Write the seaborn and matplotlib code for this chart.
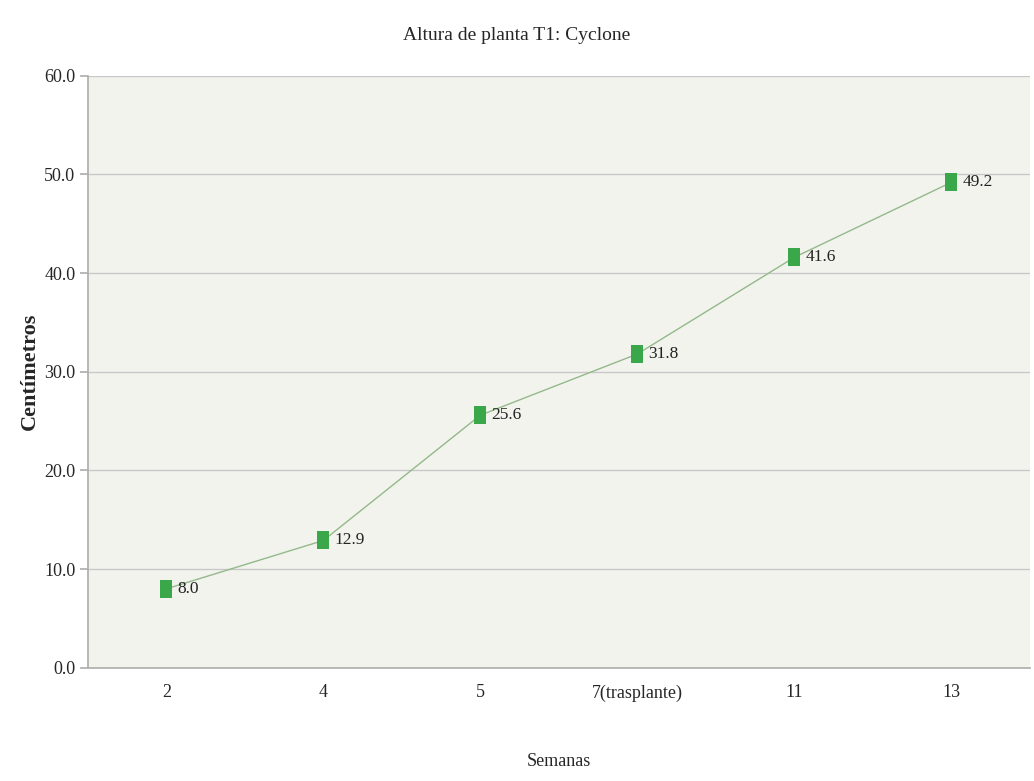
import matplotlib
matplotlib.use("Agg")
import matplotlib.pyplot as plt
import seaborn as sns
import pandas as pd

semanas = ["2", "4", "5", "7(trasplante)", "11", "13"]
altura = [8.0, 12.9, 25.6, 31.8, 41.6, 49.2]
yticks = [0, 10, 20, 30, 40, 50, 60]

sns.set_theme(style="white")
plt.rcParams['font.family'] = ['Liberation Serif', 'DejaVu Serif']

df = pd.DataFrame({"Semanas": semanas, "Altura": altura})
df["pos"] = range(len(df))

fig = plt.figure(figsize=(10.34, 7.81), dpi=100)
ax = fig.add_axes([0.085, 0.145, 0.911, 0.758])
ax.set_facecolor("#f3f3ee")

rect = [(-0.68, -1), (0.68, -1), (0.68, 1), (-0.68, 1), (-0.68, -1)]
sns.lineplot(data=df, x="pos", y="Altura", ax=ax, color="#93b98a", linewidth=1.0,
             marker=rect, markersize=12.5, markerfacecolor="#3aa84a",
             markeredgecolor="#3aa84a", markeredgewidth=0)

for i, v in enumerate(altura):
    ax.annotate(f"{v:.1f}", (i, v), xytext=(8, 0), textcoords="offset points",
                va="center", ha="left", fontsize=12.5, color="#222222")

ax.set_xlim(-0.5, len(semanas) - 0.5)
ax.set_ylim(0, 60)
ax.set_xticks(range(len(semanas)))
ax.set_xticklabels(semanas, fontsize=13)
ax.set_yticks(yticks)
ax.set_yticklabels([f"{t:.1f}" for t in yticks], fontsize=13)
ax.yaxis.grid(True, color="#c8c8c8", linewidth=1)
ax.xaxis.grid(False)
for s in ["top", "right"]:
    ax.spines[s].set_visible(False)
for s in ["left", "bottom"]:
    ax.spines[s].set_color("#b0b0b0")
ax.tick_params(axis="y", length=6, color="#b0b0b0", left=True, pad=3)
ax.tick_params(axis="x", length=0, pad=12)

ax.set_xlabel("Semanas", fontsize=13, labelpad=37)
ax.set_ylabel("Centímetros", fontsize=16, fontweight="bold", labelpad=3)
fig.suptitle("Altura de planta T1: Cyclone", y=0.965, fontsize=14)

fig.savefig("out.png", dpi=100, facecolor="white")
